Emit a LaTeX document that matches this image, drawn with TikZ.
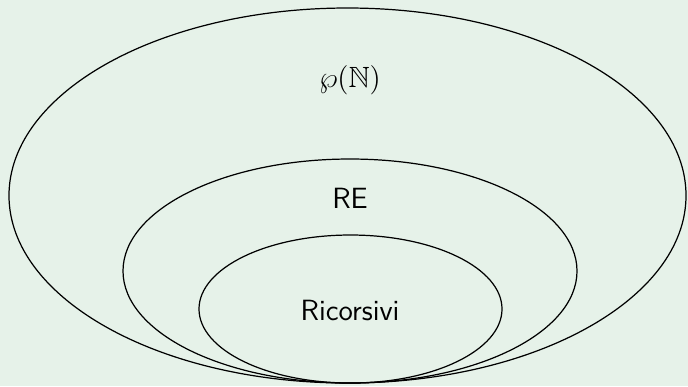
\documentclass[tikz,border=0pt]{standalone}
\usepackage{amsmath, amssymb}
\usepackage{tikz}
\usepackage{xcolor}
\definecolor{bgcol}{RGB}{230,242,233}

\begin{document}
\begin{tikzpicture}[
  x=0.0144cm, y=-0.0144cm,
  set/.style={draw, line width=0.5pt},
  lab/.style={font=\large\sffamily}
]
\fill[bgcol] (0,0) rectangle (688,386);
\useasboundingbox (0,0) rectangle (688,386);

% insiemi
\draw[set] (347.5,195.5) ellipse [x radius=338.5, y radius=187.5];
\draw[set] (350,271) ellipse [x radius=227, y radius=112];
\draw[set] (350.5,309) ellipse [x radius=151.5, y radius=74];

\node[lab] (pn) at (350,80) {$\wp(\mathbb{N})$};
\node[lab] (re) at (350,198) {RE};
\node[lab] (ric) at (350,310) {Ricorsivi};

\end{tikzpicture}
\end{document}
